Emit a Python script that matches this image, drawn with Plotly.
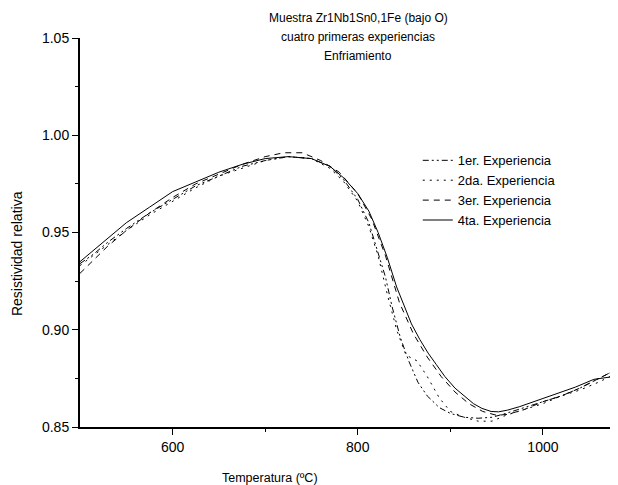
import plotly.graph_objects as go

# ---- data ----
t1 = [500, 515, 530, 550, 575, 600, 625, 650, 675, 700, 725, 750, 770, 785, 800, 812, 822, 830, 837, 846,
      855, 865, 875, 888, 900, 915, 930, 945, 960, 980, 1000, 1020, 1040, 1060, 1077]
v1 = [0.934, 0.939, 0.945, 0.952, 0.960, 0.967, 0.974, 0.979, 0.984, 0.987, 0.989, 0.988, 0.984, 0.977, 0.967,
      0.955, 0.940, 0.927, 0.912, 0.896, 0.884, 0.873, 0.866, 0.860, 0.857, 0.855, 0.8545, 0.855, 0.857, 0.860,
      0.863, 0.866, 0.870, 0.875, 0.879]

t2 = [500, 530, 550, 575, 600, 625, 650, 675, 700, 725, 750, 770, 785, 800, 812, 822, 832, 842, 852, 864,
      875, 888, 900, 915, 930, 945, 960, 980, 1000, 1020, 1040, 1060, 1077]
v2 = [0.933, 0.944, 0.951, 0.959, 0.966, 0.973, 0.979, 0.983, 0.987, 0.989, 0.988, 0.983, 0.976, 0.966, 0.953,
      0.938, 0.918, 0.900, 0.887, 0.884, 0.876, 0.865, 0.858, 0.855, 0.853, 0.853, 0.856, 0.859, 0.862, 0.866,
      0.869, 0.873, 0.877]

t3 = [500, 515, 530, 550, 575, 600, 625, 650, 675, 700, 720, 740, 760, 780, 800, 815, 830, 845, 860, 875,
      890, 905, 920, 935, 950, 962, 980, 1000, 1020, 1040, 1060, 1077]
v3 = [0.929, 0.936, 0.943, 0.951, 0.960, 0.968, 0.975, 0.980, 0.985, 0.989, 0.991, 0.991, 0.987, 0.981, 0.970,
      0.957, 0.938, 0.914, 0.898, 0.886, 0.876, 0.868, 0.862, 0.858, 0.856, 0.8565, 0.859, 0.863, 0.866, 0.870,
      0.875, 0.879]

t4 = [500, 515, 530, 550, 575, 600, 625, 650, 675, 700, 725, 750, 770, 785, 800, 812, 822, 832, 842, 850,
      858, 867, 876, 885, 894, 905, 916, 925, 934, 944, 952, 962, 975, 995, 1015, 1035, 1055, 1077]
v4 = [0.935, 0.941, 0.947, 0.955, 0.963, 0.971, 0.976, 0.981, 0.985, 0.988, 0.989, 0.988, 0.984, 0.978, 0.970,
      0.961, 0.950, 0.937, 0.922, 0.912, 0.903, 0.895, 0.888, 0.882, 0.876, 0.870, 0.8655, 0.862, 0.8596, 0.858,
      0.8578, 0.8587, 0.8605, 0.8638, 0.8672, 0.8705, 0.8745, 0.876]

names = ["1er. Experiencia", "2da. Experiencia", "3er. Experiencia", "4ta. Experiencia"]
title_lines = ["Muestra Zr1Nb1Sn0,1Fe (bajo O)", "cuatro primeras experiencias", "Enfriamiento"]
y_ticks = [0.85, 0.90, 0.95, 1.00, 1.05]
y_ticktext = ["0.85", "0.90", "0.95", "1.00", "1.05"]
x_ticks = [600, 800, 1000]
x_ticktext = ["600", "800", "1000"]

FONT = "Liberation Sans, Arial, sans-serif"
dashes = ["6px,3px,2px,3px,2px,3px", "2px,5px", "6px,5px", "solid"]

fig = go.Figure()
for t, v, n, d in zip([t1, t2, t3, t4], [v1, v2, v3, v4], names, dashes):
    fig.add_trace(go.Scatter(x=t, y=v, mode="lines", name=n,
                             line=dict(color="black", width=1, dash=d)))

annotations = []
for i, (line, yy) in enumerate(zip(title_lines, [1.0514, 1.0026, 0.9537])):
    annotations.append(dict(text=line, x=0.518, xref="paper", y=yy, yref="paper",
                            xanchor="center", yanchor="middle", showarrow=False,
                            font=dict(family=FONT, size=12)))
annotations.append(dict(text="Temperatura (ºC)", x=0.354, xref="paper", y=-0.131, yref="paper",
                        xanchor="center", yanchor="middle", showarrow=False,
                        font=dict(family=FONT, size=12.5)))
annotations.append(dict(text="Resistividad relativa", textangle=-90, x=-0.117, xref="paper",
                        y=0.445, yref="paper", xanchor="center", yanchor="middle", showarrow=False,
                        font=dict(family=FONT, size=14)))

fig.update_layout(
    width=618, height=485,
    margin=dict(l=72, r=9, t=30, b=66),
    paper_bgcolor="white", plot_bgcolor="white",
    font=dict(family=FONT, size=12, color="black"),
    showlegend=True,
    legend=dict(x=0.629, y=0.724, xanchor="left", yanchor="top",
                bgcolor="rgba(0,0,0,0)", borderwidth=0,
                font=dict(family=FONT, size=13), tracegroupgap=0, itemwidth=30),
    annotations=annotations,
)

fig.update_xaxes(range=[500, 1080], tickvals=x_ticks, ticktext=x_ticktext,
                 ticks="outside", ticklen=6, tickwidth=1, tickcolor="black",
                 showline=True, linecolor="black", linewidth=1.5, mirror=False,
                 showgrid=False, zeroline=False,
                 minor=dict(tickvals=[700, 900], ticks="outside", ticklen=3,
                            tickcolor="black", showgrid=False),
                 tickfont=dict(family=FONT, size=14))
fig.update_yaxes(range=[0.85, 1.05], tickvals=y_ticks, ticktext=y_ticktext,
                 ticks="outside", ticklen=6, tickwidth=1, tickcolor="black",
                 showline=True, linecolor="black", linewidth=2, mirror=False,
                 showgrid=False, zeroline=False,
                 minor=dict(tickvals=[0.875, 0.925, 0.975, 1.025], ticks="outside", ticklen=3,
                            tickcolor="black", showgrid=False),
                 tickfont=dict(family=FONT, size=14))

fig.write_html("out.html")
